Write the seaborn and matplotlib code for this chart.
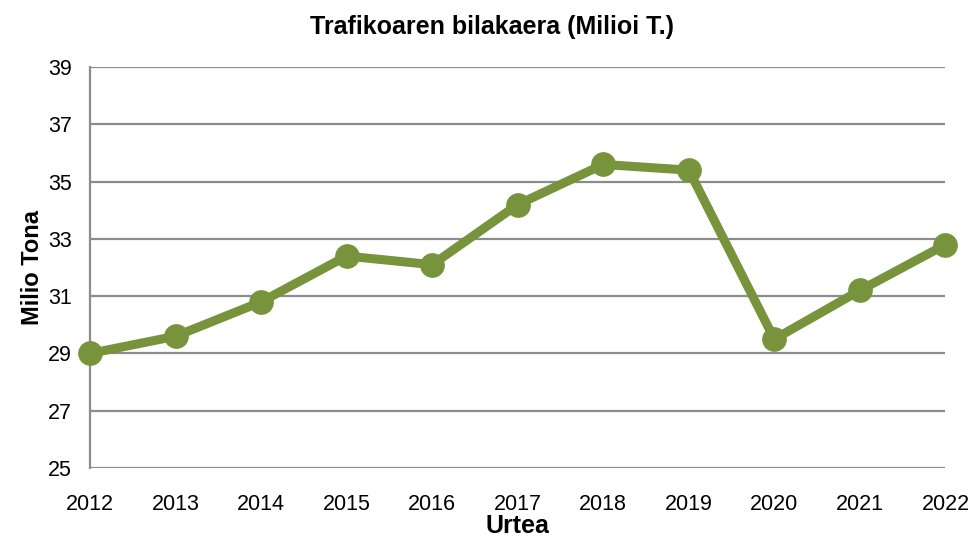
import numpy as np
import pandas as pd
import matplotlib
matplotlib.use("Agg")
import matplotlib.pyplot as plt
import seaborn as sns

# Data
years = [2012, 2013, 2014, 2015, 2016, 2017, 2018, 2019, 2020, 2021, 2022]
tonnes = [29.0, 29.6, 30.8, 32.4, 32.1, 34.2, 35.6, 35.4, 29.5, 31.2, 32.8]
y_ticks = [25, 27, 29, 31, 33, 35, 37, 39]

df = pd.DataFrame({"Urtea": years, "Milio Tona": tonnes})

sns.set_style("white")
plt.rcParams["font.family"] = ["Liberation Sans", "DejaVu Sans"]
plt.rcParams["text.color"] = "black"
plt.rcParams["axes.labelcolor"] = "black"

fig = plt.figure(figsize=(9.71, 5.41), dpi=100)
ax = fig.add_axes([0.0927, 0.135, 0.881, 0.741])

green = "#77933C"
grid_col = "#8C8C8C"

sns.lineplot(data=df, x="Urtea", y="Milio Tona", ax=ax, color=green,
             linewidth=6.5, marker="o", markersize=17,
             markeredgecolor=green, clip_on=False, zorder=3)

ax.set_xlim(2012, 2022)
ax.set_ylim(25, 39)
ax.set_yticks(y_ticks)
ax.set_xticks(years)
ax.set_xticklabels([str(y) for y in years])

for t in y_ticks:
    ax.axhline(t, color=grid_col, linewidth=1.6, zorder=1)

for side in ["top", "right", "bottom"]:
    ax.spines[side].set_visible(False)
ax.spines["left"].set_color(grid_col)
ax.spines["left"].set_linewidth(1.6)

ax.tick_params(axis="both", length=0, labelsize=15.5, colors="black")
ax.tick_params(axis="y", pad=13)
ax.tick_params(axis="x", pad=19)

ax.set_title("Trafikoaren bilakaera (Milioi T.)", fontsize=18, fontweight="bold",
             pad=24, color="black", x=0.47)
ax.set_xlabel("Urtea", fontsize=18, fontweight="bold", labelpad=-1)
ax.set_ylabel("Milio Tona", fontsize=17, fontweight="bold", labelpad=3)

fig.savefig("out.png", dpi=100)
